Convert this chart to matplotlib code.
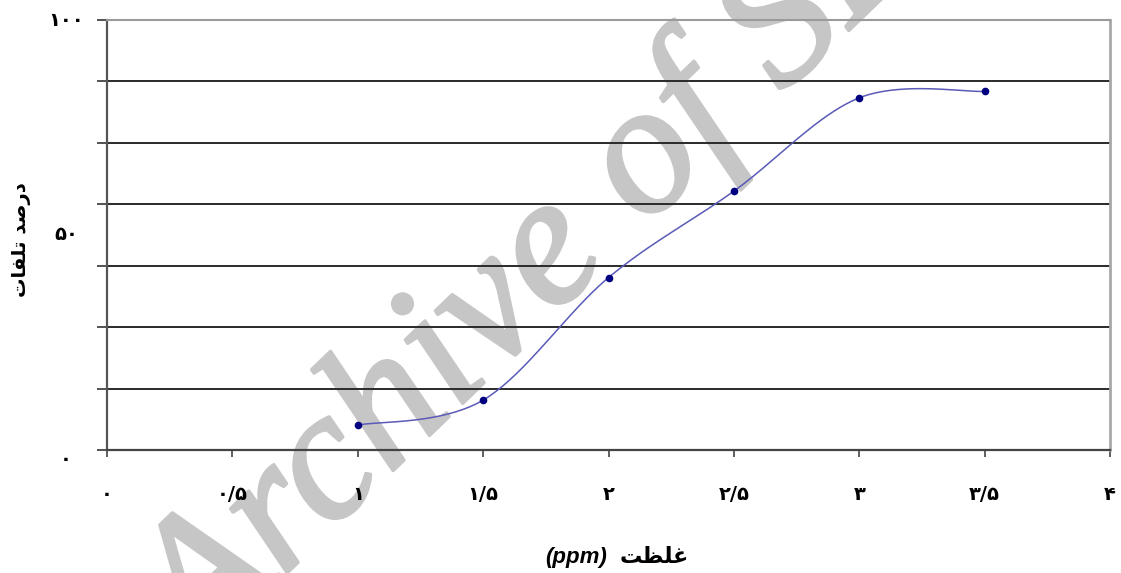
import numpy as np
import matplotlib
matplotlib.use('Agg')
import matplotlib.pyplot as plt
import matplotlib.patheffects as pe

# concentration (ppm) vs. mortality (%)
conc = [1, 1.5, 2, 2.5, 3, 3.5]
mortality = [5.8, 11.6, 40.1, 60.2, 81.9, 83.4]

x_ticks = [0, 0.5, 1, 1.5, 2, 2.5, 3, 3.5, 4]
x_tick_labels = ['۰', '۰/۵', '۱', '۱/۵', '۲', '۲/۵', '۳', '۳/۵', '۴']
y_label_values = [0, 50, 100]
y_label_texts = ['۰', '۵۰', '۱۰۰']

# Arabic titles written in shaped (presentation) forms, visual order
x_title_fa = '\uFE96\uFEC8\uFEE0\uFECF'                          # غلظت
y_title_fa = '\uFE95\uFE8E\uFED4\uFEE0\uFE97 \uFEAA\uFEBB\uFEAD\uFEA9'  # درصد تلفات


def smooth_curve(x, y, n=40):
    # Bezier smoothing the way spreadsheet "smoothed line" charts do it
    pts = np.column_stack([x, y]).astype(float)
    P = np.vstack([pts[0], pts, pts[-1]])
    t = np.linspace(0, 1, n)[:, None]
    segs = []
    for i in range(1, len(P) - 2):
        p0, p1, p2, p3 = P[i - 1], P[i], P[i + 1], P[i + 2]
        c1 = p1 + (p2 - p0) / 6
        c2 = p2 - (p3 - p1) / 6
        segs.append((1 - t) ** 3 * p1 + 3 * (1 - t) ** 2 * t * c1
                    + 3 * (1 - t) * t ** 2 * c2 + t ** 3 * p2)
    return np.vstack(segs)


W, H = 1121, 573
fig = plt.figure(figsize=(W / 100, H / 100), dpi=100)
fig.patch.set_facecolor('white')
ax = fig.add_axes([107 / W, 1 - 450 / H, (1110 - 107) / W, (450 - 20) / H])

curve = smooth_curve(conc, mortality)
ax.plot(curve[:, 0], curve[:, 1], color='#5a5ab8', lw=1.1, zorder=3)
ax.plot(conc, mortality, 'o', color='#000080', ms=4.5, zorder=4)

ax.set_xlim(0, 4)
ax.set_ylim(0, 100)

# horizontal grid every 1/7 of the axis
ax.set_yticks([100 * k / 7 for k in range(8)])
ax.set_yticklabels([])
ax.yaxis.grid(True, color='#2a2a2a', lw=1.4)
ax.get_ygridlines()[-1].set_color('#9a9a9a')
ax.tick_params(axis='y', direction='out', length=7, width=1.3, color='#444444')

ax.set_xticks(x_ticks)
ax.set_xticklabels(x_tick_labels, fontsize=14, fontweight='bold',
                   family=['DejaVu Sans'])
ax.tick_params(axis='x', direction='out', length=5, width=1.2,
               color='#444444', pad=20)

for v, s in zip(y_label_values, y_label_texts):
    ax.text(-0.041, v, s, transform=ax.get_yaxis_transform(), ha='center',
            va='top' if v == 0 else 'center', fontsize=14, fontweight='bold',
            clip_on=False)

ax.spines['left'].set_color('#555555')
ax.spines['left'].set_linewidth(1.6)
ax.spines['bottom'].set_color('#444444')
ax.spines['bottom'].set_linewidth(1.6)
ax.spines['top'].set_color('#9a9a9a')
ax.spines['top'].set_linewidth(1.5)
ax.spines['right'].set_color('#a8a8a8')
ax.spines['right'].set_linewidth(2)

# axis titles
fig.text(607 / W, 1 - 557 / H, '(ppm)', ha='right', va='center', fontsize=16,
         fontweight='bold', style='italic', family='Liberation Sans')
fig.text(620 / W, 1 - 557 / H, x_title_fa, ha='left', va='center', fontsize=16,
         fontweight='bold', family=['DejaVu Sans'])
fig.text(22 / W, 1 - 240 / H, y_title_fa, rotation=90, ha='center', va='center',
         fontsize=14, fontweight='bold', family=['DejaVu Sans'])

# watermark behind everything
wm_color = '#c6c6c6'
ax.text(200 / W, -84 / H, 'Archive of SID', transform=fig.transFigure,
        rotation=44, rotation_mode='anchor', ha='left', va='baseline',
        fontsize=134, family='Liberation Serif', style='italic',
        color=wm_color, zorder=0.5, clip_on=False,
        path_effects=[pe.withStroke(linewidth=2.5, foreground=wm_color)])

fig.savefig('out.png', dpi=100)
